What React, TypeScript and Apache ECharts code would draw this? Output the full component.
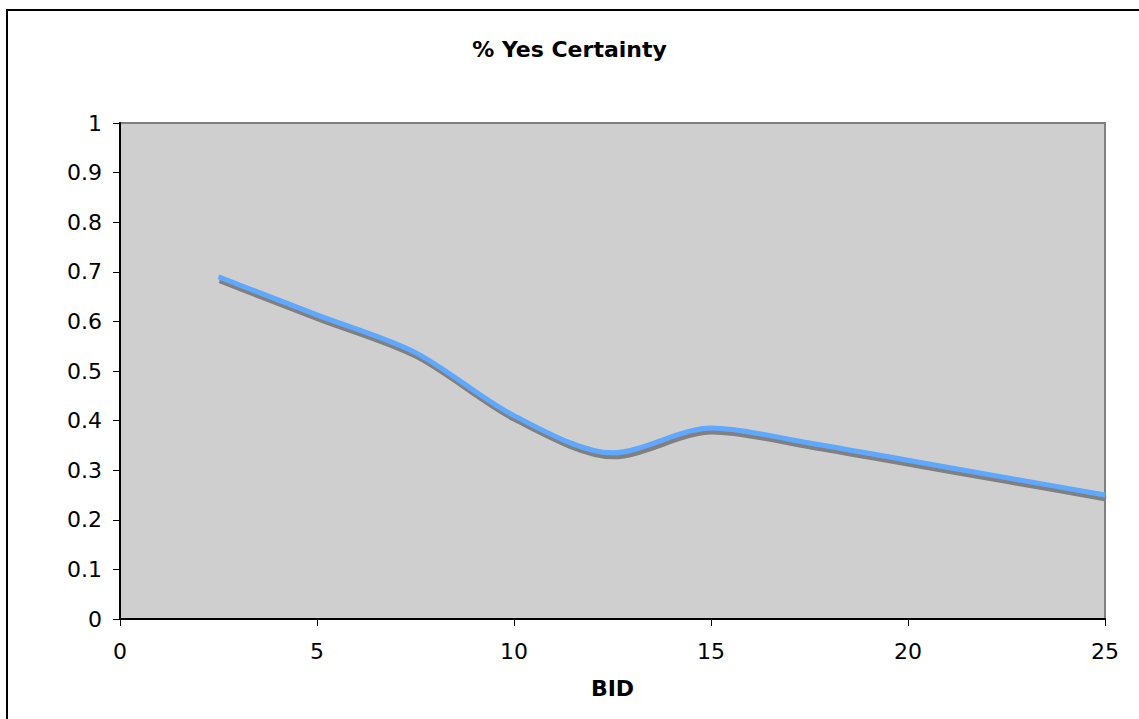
import React, { useEffect, useRef } from "react";
import * as echarts from "echarts";

const bidValues = [2.5, 5, 7.5, 10, 12.5, 15, 17.5, 20, 22.5, 25];
const yesCertainty = [0.69, 0.613, 0.537, 0.41, 0.335, 0.385, 0.355, 0.32, 0.285, 0.25];
const titleText = "% Yes Certainty";
const xAxisName = "BID";

export default function App() {
  const ref = useRef<HTMLDivElement>(null);
  useEffect(() => {
    if (!ref.current) return;
    const chart = echarts.init(ref.current, undefined, { renderer: "svg" });
    const font = "DejaVu Sans, Verdana, sans-serif";
    chart.setOption({
      animation: false,
      backgroundColor: "#ffffff",
      title: {
        text: titleText,
        left: "center",
        top: 33,
        textStyle: { fontFamily: font, fontSize: 22, fontWeight: "bold", color: "#000" },
      },
      graphic: [
        {
          type: "rect",
          shape: { x: 7, y: 10, width: 1145, height: 725 },
          style: { fill: "none", stroke: "#000", lineWidth: 2 },
          z: 100,
        },
      ],
      grid: {
        left: 120,
        top: 123,
        width: 985,
        height: 496,
        show: true,
        backgroundColor: "#CFCFCF",
        borderColor: "#808080",
        borderWidth: 2,
      },
      xAxis: {
        type: "value",
        min: 0,
        max: 25,
        interval: 5,
        name: xAxisName,
        nameLocation: "middle",
        nameGap: 58,
        nameTextStyle: { fontFamily: font, fontSize: 22, fontWeight: "bold", color: "#000" },
        axisLine: { show: true, lineStyle: { color: "#000", width: 2 } },
        axisTick: { show: true, length: 7, lineStyle: { color: "#000", width: 1 } },
        axisLabel: { fontFamily: font, fontSize: 22, color: "#000", margin: 21 },
        splitLine: { show: false },
      },
      yAxis: {
        type: "value",
        min: 0,
        max: 1,
        interval: 0.1,
        axisLine: { show: true, lineStyle: { color: "#000", width: 2 } },
        axisTick: { show: true, length: 7, lineStyle: { color: "#000", width: 1 } },
        axisLabel: { fontFamily: font, fontSize: 22, color: "#000", margin: 18 },
        splitLine: { show: false },
      },
      series: [
        {
          type: "line",
          data: bidValues.map((b, i) => [b, yesCertainty[i]]),
          smooth: 0.3,
          showSymbol: false,
          symbol: "none",
          lineStyle: {
            color: "#5EA8FF",
            width: 5,
            shadowColor: "#808080",
            shadowBlur: 0,
            shadowOffsetX: 1,
            shadowOffsetY: 4,
          },
        },
      ],
    });
    return () => chart.dispose();
  }, []);
  return (
    <div
      ref={ref}
      style={{ position: "fixed", left: 0, top: 0, width: 1139, height: 719 }}
    />
  );
}
